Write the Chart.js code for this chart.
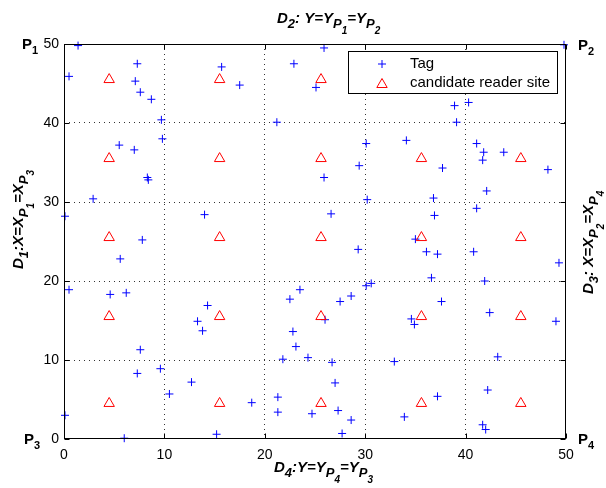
<!DOCTYPE html>
<html><head><meta charset="utf-8">
<script src="https://cdn.jsdelivr.net/npm/chart.js@4.4.0/dist/chart.umd.min.js"></script>
<style>html,body{margin:0;padding:0;background:#fff}#wrap{width:606px;height:488px;position:relative}</style>
</head><body><div id="wrap"><canvas id="c"></canvas></div>
<script>
const tagX = [1.4,0.5,7.3,7.1,7.6,8.7,9.7,9.8,5.5,7.0,8.3,8.4,2.9,0.1,7.8,5.6,15.7,17.5,14.0,22.9,21.2,
  25.9,25.1,38.9,40.3,39.1,30.1,34.1,41.1,41.8,41.7,43.8,48.2,29.4,37.7,25.9,30.2,36.8,42.1,26.6,36.9,41.1,35.0,29.3,36.1,37.2,40.8,49.8,
  0.5,4.6,6.2,14.3,13.3,13.8,7.6,7.3,9.6,12.7,10.5,0.1,6.0,15.2,18.7,21.3,21.3,22.5,23.5,22.8,23.1,21.8,24.3,
  49.3,36.6,41.9,30.1,30.6,28.6,27.5,37.6,42.4,26.0,34.6,34.9,49.0,26.7,32.9,43.2,27.0,37.2,42.2,24.7,27.3,28.6,33.9,41.7,42.0,27.7];
const tagY = [49.8,45.9,47.5,45.3,43.9,43.0,40.4,38.0,37.2,36.6,33.1,32.8,30.4,28.2,25.2,22.8,47.1,44.8,28.4,47.5,40.1,
  49.5,44.5,42.2,42.6,40.1,37.4,37.8,37.4,36.3,35.3,36.3,34.1,34.6,34.3,33.1,30.3,30.5,31.4,28.5,28.3,29.2,25.3,24.0,23.7,23.4,23.7,49.9,
  18.9,18.3,18.5,16.9,14.9,13.7,11.3,8.3,8.9,7.2,5.7,3.0,0.1,0.6,4.6,5.3,3.4,17.7,18.9,13.6,11.7,10.1,10.3,
  22.3,20.4,20.0,19.4,19.7,18.1,17.4,17.4,16.0,15.1,15.2,14.5,14.9,9.7,9.8,10.4,7.1,5.4,6.2,3.2,3.6,2.4,2.8,1.8,1.2,0.7];
const siteCols = [4.5, 15.5, 25.6, 35.6, 45.5];
const siteRows = [4.5, 15.5, 25.5, 35.5, 45.5];
const xTicks = [0, 10, 20, 30, 40, 50];
const yTicks = [0, 10, 20, 30, 40, 50];
const legendLabels = ['Tag', 'candidate reader site'];

const tagData = tagX.map((v, i) => ({x: v, y: tagY[i]}));
const siteData = [];
siteCols.forEach(cx => siteRows.forEach(cy => siteData.push({x: cx, y: cy})));

const FONT = '"Liberation Sans", Arial, Helvetica, sans-serif';

function rich(ctx, x, y, parts, sizes, offs, style) {
  let cx = x;
  parts.forEach(([t, lv]) => {
    ctx.font = style + ' ' + sizes[lv] + 'px ' + FONT;
    ctx.fillText(t, cx, y + offs[lv]);
    cx += ctx.measureText(t).width;
  });
}

const deco = {
  id: 'deco',
  afterDraw(chart) {
    const {ctx, chartArea: a, scales: {x, y}} = chart;
    ctx.save();
    ctx.setLineDash([]);
    ctx.strokeStyle = '#000';
    ctx.lineWidth = 1;
    const L = Math.round(a.left) + 0.5, R = Math.round(a.right) - 0.5;
    const T = Math.round(a.top) + 0.5, B = Math.round(a.bottom) - 0.5;
    ctx.strokeRect(L, T, R - L, B - T);
    ctx.beginPath();
    xTicks.forEach(v => {
      const px = Math.round(x.getPixelForValue(v)) + 0.5;
      ctx.moveTo(px, B); ctx.lineTo(px, B - 5);
      ctx.moveTo(px, T); ctx.lineTo(px, T + 5);
    });
    yTicks.forEach(v => {
      const py = Math.round(y.getPixelForValue(v)) + 0.5;
      ctx.moveTo(L, py); ctx.lineTo(L + 5, py);
      ctx.moveTo(R, py); ctx.lineTo(R - 5, py);
    });
    ctx.stroke();

    // legend
    ctx.fillStyle = '#fff';
    ctx.fillRect(348.5, 51.5, 209, 42);
    ctx.strokeRect(348.5, 51.5, 209, 42);
    ctx.strokeStyle = '#0000ff';
    ctx.beginPath();
    ctx.moveTo(382, 60); ctx.lineTo(382, 68);
    ctx.moveTo(378, 64); ctx.lineTo(386, 64);
    ctx.stroke();
    ctx.strokeStyle = '#ff0000';
    const tr = 6, tx = 382, ty = 84.5;
    ctx.beginPath();
    for (let k = 0; k < 3; k++) {
      const rad = k * 2 * Math.PI / 3;
      const px = tx + Math.sin(rad) * tr, py = ty - Math.cos(rad) * tr;
      if (k === 0) ctx.moveTo(px, py); else ctx.lineTo(px, py);
    }
    ctx.closePath();
    ctx.stroke();
    ctx.fillStyle = '#000';
    ctx.font = '15px ' + FONT;
    ctx.textBaseline = 'middle';
    ctx.textAlign = 'left';
    ctx.fillText(legendLabels[0], 410, 64);
    ctx.fillText(legendLabels[1], 410, 83);

    // axis side labels
    ctx.textBaseline = 'alphabetic';
    const S = [15, 13, 10], O = [0, 5, 11];
    rich(ctx, 277, 23, [['D',0],['2',1],[': Y=Y',0],['P',1],['1',2],['=Y',0],['P',1],['2',2]], S, O, 'italic bold');
    rich(ctx, 274, 472, [['D',0],['4',1],[':Y=Y',0],['P',1],['4',2],['=Y',0],['P',1],['3',2]], S, O, 'italic bold');
    ctx.save();
    ctx.translate(23, 269);
    ctx.rotate(-Math.PI / 2);
    rich(ctx, 0, 0, [['D',0],['1',1],[':X=X',0],['P',1],['1',2],['=X',0],['P',1],['3',2]], S, O, 'italic bold');
    ctx.restore();
    ctx.save();
    ctx.translate(593, 294);
    ctx.rotate(-Math.PI / 2);
    rich(ctx, 0, 0, [['D',0],['3',1],[': X=X',0],['P',1],['2',2],['=X',0],['P',1],['4',2]], S, O, 'italic bold');
    ctx.restore();

    // corner labels
    const CS = [15, 11], CO = [0, 5];
    rich(ctx, 22, 49, [['P',0],['1',1]], CS, CO, 'bold');
    rich(ctx, 578, 50, [['P',0],['2',1]], CS, CO, 'bold');
    rich(ctx, 24, 444, [['P',0],['3',1]], CS, CO, 'bold');
    rich(ctx, 578, 444, [['P',0],['4',1]], CS, CO, 'bold');
    ctx.restore();
  }
};

const gridColor = c => (c.tick && (c.tick.value === 0 || c.tick.value === 50)) ? 'rgba(0,0,0,0)' : '#333';

new Chart(document.getElementById('c'), {
  type: 'scatter',
  data: {
    datasets: [
      {label: legendLabels[1], data: siteData, pointStyle: 'triangle', pointRadius: 6, pointHoverRadius: 6,
       borderColor: '#ff0000', backgroundColor: 'rgba(0,0,0,0)', borderWidth: 1, pointBorderWidth: 1, clip: false},
      {label: legendLabels[0], data: tagData, pointStyle: 'cross', pointRadius: 4, pointHoverRadius: 4,
       borderColor: '#0000ff', backgroundColor: '#0000ff', borderWidth: 1, pointBorderWidth: 1, clip: false}
    ]
  },
  options: {
    responsive: true, maintainAspectRatio: false, animation: false, events: [],
    layout: {padding: {top: 44, right: 40, left: 0, bottom: 0}},
    plugins: {legend: {display: false}, tooltip: {enabled: false}},
    scales: {
      x: {type: 'linear', min: 0, max: 50,
          afterBuildTicks: s => { s.ticks = xTicks.map(v => ({value: v})); },
          afterFit: s => { s.height = 49; },
          grid: {drawTicks: false, color: gridColor, lineWidth: 1},
          border: {display: false, dash: [1, 4]},
          ticks: {padding: 8, color: '#000', font: {family: FONT, size: 14}, maxRotation: 0}},
      y: {type: 'linear', min: 0, max: 50,
          afterBuildTicks: s => { s.ticks = yTicks.map(v => ({value: v})); },
          afterFit: s => { s.width = 64; },
          grid: {drawTicks: false, color: gridColor, lineWidth: 1},
          border: {display: false, dash: [1, 4]},
          ticks: {padding: 5, color: '#000', font: {family: FONT, size: 14}}}
    }
  },
  plugins: [deco]
});
</script>
</body></html>
